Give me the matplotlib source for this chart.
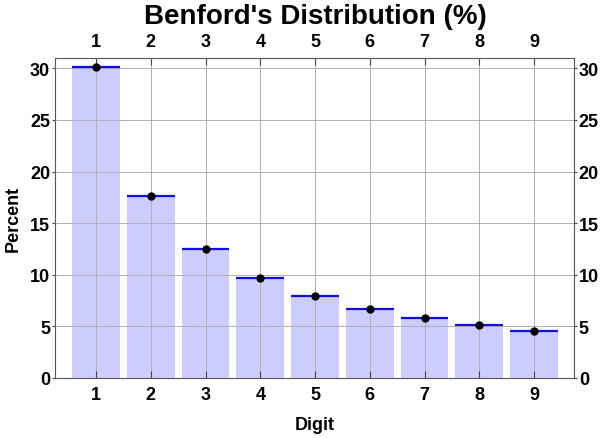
import matplotlib.pyplot as plt
import numpy as np

digits = [1, 2, 3, 4, 5, 6, 7, 8, 9]
percent = [30.1, 17.6, 12.5, 9.7, 7.9, 6.7, 5.8, 5.1, 4.6]

plt.rcParams['font.family'] = ['Liberation Sans', 'DejaVu Sans']
plt.rcParams['font.weight'] = 'bold'

fig = plt.figure(figsize=(6, 4.39), dpi=100)
ax = fig.add_axes([55 / 600, 1 - 379 / 439, 519 / 600, 320 / 439])

w = 0.87
ax.bar(digits, percent, width=w, color='#ccccff', zorder=1)
ax.hlines(percent, np.array(digits) - w / 2, np.array(digits) + w / 2,
          color='#1010dd', lw=1.6, zorder=3)
ax.plot(digits, percent, 'o', color='black', ms=5, zorder=4)

ax.set_xlim(0.25, 9.73)
ax.set_ylim(0, 31)
ax.set_xticks(digits)
ax.set_yticks([0, 5, 10, 15, 20, 25, 30])
ax.grid(True, color='#b0b0b0', lw=0.7, zorder=2)
ax.set_axisbelow(False)

ax.tick_params(axis='x', direction='in', top=True, labeltop=True, length=5,
               labelsize=13, color='#444444', pad=6)
ax.tick_params(axis='y', direction='out', right=True, labelright=True, length=2.5,
               labelsize=13, color='#444444', pad=1)
for s in ax.spines.values():
    s.set_color('#555555')

ax.set_xlabel('Digit', fontsize=13, fontweight='bold', labelpad=9)
ax.set_ylabel('Percent', fontsize=13, fontweight='bold', labelpad=6)
fig.text(0.525, 1 - 17 / 439, "Benford's Distribution (%)", fontsize=20,
         fontweight='bold', ha='center', va='center')

fig.savefig('out.png', dpi=100)
